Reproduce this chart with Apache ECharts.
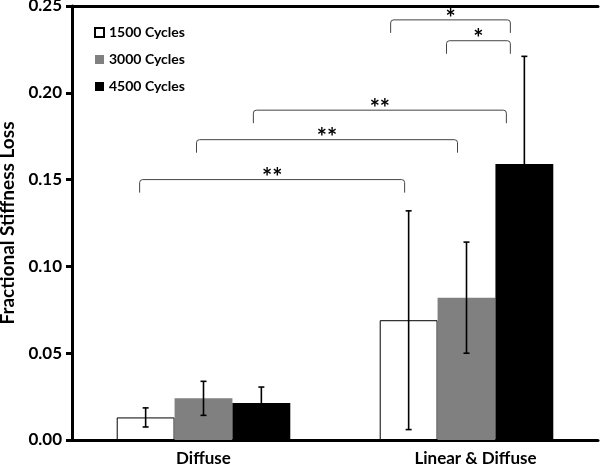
<!DOCTYPE html>
<html>
<head>
<meta charset="utf-8">
<script src="https://cdn.jsdelivr.net/npm/echarts@6/dist/echarts.min.js"></script>
<style>
html, body { margin: 0; padding: 0; background: #fff; }
#chart { width: 600px; height: 467px; }
</style>
</head>
<body>
<div id="chart"></div>
<script>
// data
var categories = ['Diffuse', 'Linear & Diffuse'];
var seriesNames = ['1500 Cycles', '3000 Cycles', '4500 Cycles'];
var mean1500 = [0.013, 0.069];
var mean3000 = [0.024, 0.082];
var mean4500 = [0.0213, 0.159];
var err1500 = [0.0055, 0.063];
var err3000 = [0.0098, 0.032];
var err4500 = [0.0092, 0.062];

// significance brackets: [category, series] from -> to, height, label
var bracketFrom = [[0, 0], [0, 1], [0, 2], [1, 0], [1, 1]];
var bracketTo = [[1, 0], [1, 1], [1, 2], [1, 2], [1, 2]];
var bracketLevel = [0.150, 0.173, 0.190, 0.242, 0.230];
var bracketLabel = ['**', '**', '**', '*', '*'];

var means = [mean1500, mean3000, mean4500];
var errs = [err1500, err3000, err4500];
var colors = ['#ffffff', '#808080', '#000000'];
var barFrac = 0.22;
// little horizontal nudges (px) of bracket ends, to sit like the original
var nudgeL = [-6, -7, -8, -18, -20];
var nudgeR = [-4, -9, -18, -14, -14];

var font = 'Lato, "Liberation Sans", sans-serif';

var myChart = echarts.init(document.getElementById('chart'), null, { renderer: 'canvas' });

var series = [];
seriesNames.forEach(function (name, i) {
    series.push({
        name: name,
        type: 'bar',
        barWidth: (barFrac * 100) + '%',
        barGap: '0%',
        itemStyle: { color: colors[i], borderColor: '#000', borderWidth: i === 0 ? 1 : 0 },
        data: means[i],
        z: 2
    });
});

// error bars
var errData = [];
for (var s = 0; s < 3; s++) {
    for (var c = 0; c < categories.length; c++) {
        errData.push([c, means[s][c], errs[s][c], s]);
    }
}
series.push({
    type: 'custom',
    z: 5,
    clip: false,
    silent: true,
    data: errData,
    encode: { x: 0, y: 1 },
    renderItem: function (params, api) {
        var c = api.value(0), m = api.value(1), e = api.value(2), si = api.value(3);
        var band = api.size([1, 0])[0];
        var dx = (si - 1) * band * barFrac;
        var top = api.coord([c, m + e]);
        var bot = api.coord([c, m - e]);
        var x = top[0] + dx;
        var cap = 3;
        var st = { stroke: '#000', lineWidth: 1.6 };
        return {
            type: 'group',
            children: [
                { type: 'line', shape: { x1: x, y1: top[1], x2: x, y2: bot[1] }, style: st },
                { type: 'line', shape: { x1: x - cap, y1: top[1], x2: x + cap, y2: top[1] }, style: st },
                { type: 'line', shape: { x1: x - cap, y1: bot[1], x2: x + cap, y2: bot[1] }, style: st }
            ]
        };
    }
});

// brackets
series.push({
    type: 'custom',
    z: 6,
    clip: false,
    silent: true,
    data: bracketLevel.map(function (v, i) { return [bracketFrom[i][0], v, i]; }),
    encode: { x: 0, y: 1 },
    renderItem: function (params, api) {
        var i = api.value(2);
        var band = api.size([1, 0])[0];
        var a = api.coord([bracketFrom[i][0], bracketLevel[i]]);
        var b = api.coord([bracketTo[i][0], bracketLevel[i]]);
        var x1 = a[0] + (bracketFrom[i][1] - 1) * band * barFrac + nudgeL[i];
        var x2 = b[0] + (bracketTo[i][1] - 1) * band * barFrac + nudgeR[i];
        var y = a[1];
        var drop = 13, r = 3;
        var path = 'M' + x1 + ',' + (y + drop) + ' L' + x1 + ',' + (y + r) +
            ' Q' + x1 + ',' + y + ' ' + (x1 + r) + ',' + y +
            ' L' + (x2 - r) + ',' + y +
            ' Q' + x2 + ',' + y + ' ' + x2 + ',' + (y + r) +
            ' L' + x2 + ',' + (y + drop);
        return {
            type: 'group',
            children: [
                { type: 'path', shape: { pathData: path }, style: { stroke: '#444', lineWidth: 1, fill: null } },
                { type: 'text', x: (x1 + x2) / 2, y: y - 1,
                  style: { text: bracketLabel[i], fill: '#000', font: 'bold 24px ' + font, align: 'center', verticalAlign: 'middle' } }
            ]
        };
    }
});

var option = {
    animation: false,
    backgroundColor: '#fff',
    grid: { left: 72, right: 2, top: 6, bottom: 27, containLabel: false, outerBoundsMode: 'none' },
    legend: {
        data: seriesNames,
        orient: 'vertical',
        left: 89,
        top: 20,
        icon: 'rect',
        itemWidth: 9,
        itemHeight: 9,
        itemGap: 12,
        textStyle: { fontFamily: font, fontWeight: 'bold', fontSize: 14, color: '#000', lineHeight: 15 }
    },
    xAxis: [{
        type: 'category',
        data: [
            categories[0],
            { value: categories[1], textStyle: { padding: [0, 0, 0, 18] } }
        ],
        axisLine: { lineStyle: { color: '#000', width: 3 } },
        axisTick: { show: false },
        axisLabel: { fontFamily: font, fontWeight: 'bold', fontSize: 17, color: '#000', margin: 10 }
    }, {
        type: 'category',
        position: 'top',
        data: categories,
        axisLine: { lineStyle: { color: '#000', width: 3 } },
        axisTick: { show: false },
        axisLabel: { show: false }
    }],
    yAxis: {
        type: 'value',
        min: 0,
        max: 0.25,
        interval: 0.05,
        name: 'Fractional Stiffness Loss',
        nameLocation: 'middle',
        nameGap: 48,
        nameRotate: 90,
        nameTextStyle: { fontFamily: font, fontWeight: 'bold', fontSize: 19, color: '#000' },
        splitLine: { show: false },
        axisLine: { show: true, lineStyle: { color: '#000', width: 3 } },
        axisTick: { show: true, inside: false, length: 6, lineStyle: { color: '#000', width: 3 } },
        axisLabel: {
            fontFamily: font, fontWeight: 'bold', fontSize: 17, color: '#000', margin: 10,
            formatter: function (v) { return v.toFixed(2); }
        }
    },
    series: series
};
myChart.setOption(option);
</script>
</body>
</html>
